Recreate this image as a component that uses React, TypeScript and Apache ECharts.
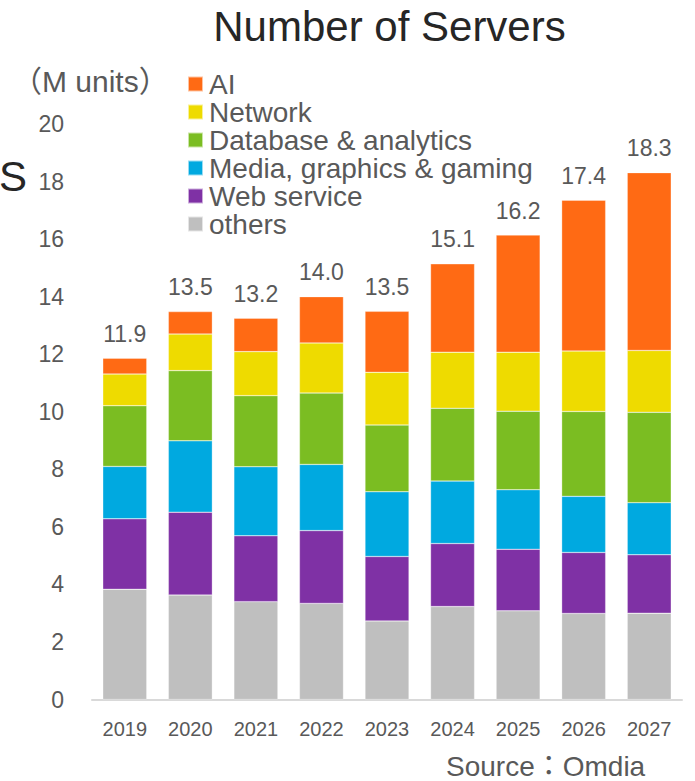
import React, { useEffect, useRef } from "react";
import * as echarts from "echarts";

const years = ["2019", "2020", "2021", "2022", "2023", "2024", "2025", "2026", "2027"];
const others = [3.83, 3.63, 3.4, 3.34, 2.73, 3.23, 3.08, 2.99, 3.0];
const webService = [2.45, 2.88, 2.29, 2.53, 2.24, 2.19, 2.14, 2.12, 2.03];
const media = [1.82, 2.48, 2.4, 2.3, 2.25, 2.17, 2.07, 1.95, 1.81];
const database = [2.11, 2.44, 2.47, 2.48, 2.32, 2.53, 2.73, 2.95, 3.14];
const network = [1.1, 1.27, 1.53, 1.74, 1.83, 1.95, 2.05, 2.1, 2.15];
const ai = [0.55, 0.78, 1.16, 1.61, 2.12, 3.07, 4.07, 5.24, 6.18];
const totals = ["11.9", "13.5", "13.2", "14.0", "13.5", "15.1", "16.2", "17.4", "18.3"];

const FONT = "'Liberation Sans', Arial, 'Noto Sans CJK JP', sans-serif";
const GRAY = "#595959";

export default function App() {
  const ref = useRef<HTMLDivElement>(null);
  useEffect(() => {
    if (!ref.current) return;
    const chart = echarts.init(ref.current, null, { renderer: "svg" });
    const seriesDefs = [
      { name: "others", data: others, color: "#BFBFBF" },
      { name: "Web service", data: webService, color: "#7F31A5" },
      { name: "Media, graphics & gaming", data: media, color: "#00A9E0" },
      { name: "Database & analytics", data: database, color: "#7BBD22" },
      { name: "Network", data: network, color: "#EEDB00" },
      { name: "AI", data: ai, color: "#FF6A14" },
    ];
    const series = seriesDefs.map((s, i) => ({
      type: "bar",
      name: s.name,
      stack: "total",
      data: s.data,
      barWidth: 44,
      itemStyle: { color: s.color, borderColor: "rgba(255,255,255,0.6)", borderWidth: 0.5 },
      label:
        i === seriesDefs.length - 1
          ? {
              show: true,
              position: "top",
              distance: 13,
              formatter: (p: any) => totals[p.dataIndex],
              fontSize: 23,
              color: GRAY,
              fontFamily: FONT,
            }
          : { show: false },
    }));
    chart.setOption({
      animation: false,
      grid: { left: 92, right: 13, top: 124, bottom: 81.5, containLabel: false },
      legend: {
        orient: "vertical",
        left: 187,
        top: 70,
        padding: 0,
        itemWidth: 15,
        itemHeight: 15,
        itemGap: 0,
        icon: "rect",
        data: ["AI", "Network", "Database & analytics", "Media, graphics & gaming", "Web service", "others"],
        textStyle: { fontSize: 28, color: GRAY, fontFamily: FONT, padding: [0, 0, 0, 1] },
      },
      xAxis: {
        type: "category",
        data: years,
        axisLine: { lineStyle: { color: "#D9D9D9", width: 2 } },
        axisTick: { show: false },
        axisLabel: {
          fontSize: 20,
          color: GRAY,
          margin: 19,
          fontFamily: FONT,
        },
      },
      yAxis: {
        type: "value",
        min: 0,
        max: 20,
        interval: 2,
        axisLine: { show: false },
        axisTick: { show: false },
        splitLine: { show: false },
        axisLabel: { fontSize: 23, color: GRAY, margin: 28, fontFamily: FONT },
      },
      graphic: [
        {
          type: "text",
          style: {
            text: "Number of Servers",
            x: 389.5,
            y: 26,
            align: "center",
            verticalAlign: "middle",
            fontSize: 42,
            fill: "#262626",
            fontFamily: FONT,
          },
        },
        {
          type: "text",
          style: {
            text: "（M units）",
            x: 12,
            y: 81,
            verticalAlign: "middle",
            fontSize: 30,
            fill: GRAY,
            fontFamily: FONT,
          },
        },
        {
          type: "text",
          style: {
            text: "S",
            x: -1,
            y: 176,
            verticalAlign: "middle",
            fontSize: 42,
            fill: "#262626",
            fontFamily: FONT,
          },
        },
        {
          type: "text",
          style: {
            text: "Source：Omdia",
            x: 446,
            y: 766,
            verticalAlign: "middle",
            fontSize: 28,
            fill: GRAY,
            fontFamily: FONT,
          },
        },
      ],
      series,
    });
    return () => chart.dispose();
  }, []);
  return (
    <div
      ref={ref}
      style={{ position: "absolute", left: 0, top: 0, width: 695, height: 781 }}
    />
  );
}
